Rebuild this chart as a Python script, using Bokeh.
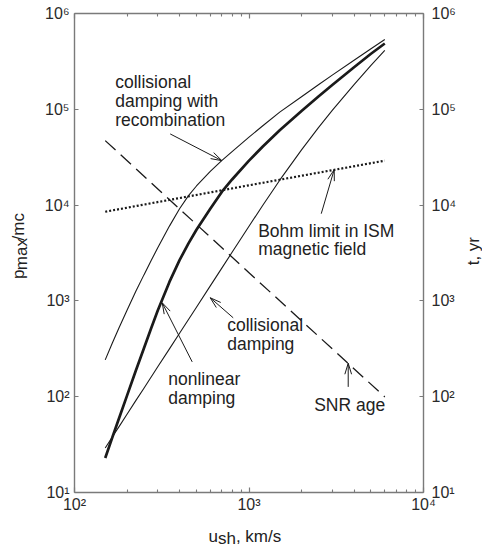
import math
from bokeh.plotting import figure
from bokeh.layouts import row, column
from bokeh.models import (LogAxis, FixedTicker, CustomJSTickFormatter, Label, Range1d)
from bokeh.core.properties import value
from bokeh.embed import file_html
from bokeh.resources import INLINE

# ---------------- data ----------------
u_sh = [150, 165, 180, 200, 225, 250, 275, 300, 350, 400, 450, 500, 600, 700, 800,
        1000, 1200, 1500, 2000, 2500, 3000, 4000, 5000, 6000]
p_recombination = [242.3, 365.8, 523.4, 799.3, 1266, 1869, 2637, 3588, 6035, 9171,
                   12540, 15830, 22450, 29240, 36220, 51220, 67400, 93480, 135400,
                   180300, 227200, 325100, 428700, 534900]
p_nonlinear = [22.9, 37.9, 59.5, 102.7, 188.7, 320.4, 517.2, 793.6, 1579, 2663,
               3990, 5533, 9147, 13800, 18510, 29100, 40870, 60470, 95770, 136100,
               179500, 274800, 380200, 485900]
p_collisional = [29.17, 38.19, 48.71, 65.50, 91.48, 122.7, 160.6, 205.3, 315.9, 459.7,
                 639.1, 859.5, 1435, 2212, 3219, 6020, 9952, 18200, 37740, 64400,
                 97390, 180700, 286900, 411700]
u_bohm = [150, 1000, 6000]
p_bohm = [8530, 16100, 29100]
u_age = [150, 1000, 6000]
t_age = [47100, 1970, 99.5]

x_major_ticks = [100, 1000, 10000]
x_minor_ticks = [200, 300, 400, 500, 600, 700, 800, 900,
                 2000, 3000, 4000, 5000, 6000, 7000, 8000, 9000]
y_major_ticks = [10, 100, 1000, 10000, 100000, 1000000]

# annotation texts: (text, x, y) in data units, left anchored
notes = [
    ("collisional", 171.1, 193500),
    ("damping with", 171.1, 123400),
    ("recombination", 171.1, 78080),
    ("Bohm limit in ISM", 1129, 5404),
    ("magnetic field", 1129, 3462),
    ("collisional", 750.2, 563),
    ("damping", 750.2, 356.4),
    ("nonlinear", 344.4, 151.7),
    ("damping", 344.4, 97.2),
    ("SNR age", 2363, 82.8),
]
# arrows: (x_start, y_start, x_end, y_end) in data units
arrows = [
    (353.5, 55330, 699.3, 29100),
    (2594, 8132, 3078, 23440),
    (812, 666, 599.5, 1078),
    (472.6, 231, 318.2, 955),
    (3703, 126.6, 3703, 223.4),
]

FONT = "Liberation Sans"
INK = "#1a1a1a"
TXT = "#222222"
FRAME = "#7a7a7a"

W, H = 424, 518
BL, BR, BT, BB = 36, 39, 13, 26
X_RANGE = (100, 10000)
Y_RANGE = (10, 1e6)

# ---------------- main chart ----------------
p = figure(width=W, height=H, x_axis_type="log", y_axis_type="log",
           x_range=X_RANGE, y_range=Y_RANGE, title=None,
           output_backend="svg", toolbar_location=None,
           min_border_left=BL, min_border_right=BR,
           min_border_top=BT, min_border_bottom=BB)
p.xgrid.grid_line_color = None
p.ygrid.grid_line_color = None
p.outline_line_color = None
p.background_fill_color = "white"
p.border_fill_color = "white"

bottom = p.below[0]
left = p.left[0]
top = LogAxis()
right = LogAxis()
p.add_layout(top, "above")
p.add_layout(right, "right")

sup_code = """
const s = {"0":"\u2070","1":"\u00b9","2":"\u00b2","3":"\u00b3","4":"\u2074",
           "5":"\u2075","6":"\u2076","7":"\u2077","8":"\u2078","9":"\u2079","-":"\u207b"};
const e = Math.round(Math.log10(tick));
return "10" + String(e).split("").map(c => s[c]).join("");
"""

for ax in [bottom, top]:
    ax.ticker = FixedTicker(ticks=x_major_ticks, minor_ticks=x_minor_ticks)
    ax.major_tick_in = 5
    ax.major_tick_out = 0
    ax.minor_tick_in = 3
    ax.minor_tick_out = 0
    ax.minor_tick_line_color = FRAME
    ax.minor_tick_line_width = 1.1
for ax in [left, right]:
    ax.ticker = FixedTicker(ticks=y_major_ticks, minor_ticks=[])
    ax.major_tick_in = 4
    ax.major_tick_out = 0
    ax.minor_tick_line_color = None

for ax in [bottom, top, left, right]:
    ax.axis_line_color = FRAME
    ax.axis_line_width = 1.4
    ax.major_tick_line_color = FRAME
    ax.major_tick_line_width = 1.2
    ax.major_label_text_font = FONT
    ax.major_label_text_font_size = "16px"
    ax.major_label_text_color = "#2a2a2a"
    ax.axis_label = None

for ax in [bottom, left, right]:
    ax.formatter = CustomJSTickFormatter(code=sup_code)
bottom.major_label_standoff = 3
left.major_label_standoff = 5
right.major_label_standoff = 8

top.formatter = CustomJSTickFormatter(code="return '';")
top.major_label_text_font_size = "0px"
top.major_label_standoff = 0

# curves
p.line(u_sh, p_recombination, line_color=INK, line_width=1.1)
p.line(u_sh, p_collisional, line_color=INK, line_width=1.1)
p.line(u_sh, p_nonlinear, line_color=INK, line_width=2.7)
p.line(u_bohm, p_bohm, line_color=INK, line_width=2.2, line_dash="2 2")
p.line(u_age, t_age, line_color=INK, line_width=1.3, line_dash="14 7")

# annotation texts
for txt, x, y in notes:
    p.add_layout(Label(x=x, y=y, text=txt, text_font=FONT, text_font_size="17.5px",
                       text_color=TXT, text_align="left", text_baseline="alphabetic"))

# arrows with narrow open heads (head geometry worked out in screen pixels)
px_per_dec_x = (W - BL - BR) / (math.log10(X_RANGE[1]) - math.log10(X_RANGE[0]))
px_per_dec_y = (H - BT - BB) / (math.log10(Y_RANGE[1]) - math.log10(Y_RANGE[0]))
HEAD_LEN, HEAD_HALF = 11.5, math.radians(17)
x0s, y0s, x1s, y1s = [], [], [], []
for xs, ys, xe, ye in arrows:
    x0s.append(xs); y0s.append(ys); x1s.append(xe); y1s.append(ye)
    ax0, ay0 = math.log10(xs) * px_per_dec_x, math.log10(ys) * px_per_dec_y
    ax1, ay1 = math.log10(xe) * px_per_dec_x, math.log10(ye) * px_per_dec_y
    ang = math.atan2(ay1 - ay0, ax1 - ax0)
    for s in (1, -1):
        a = ang + math.pi + s * HEAD_HALF
        wx = ax1 + HEAD_LEN * math.cos(a)
        wy = ay1 + HEAD_LEN * math.sin(a)
        x0s.append(xe); y0s.append(ye)
        x1s.append(10 ** (wx / px_per_dec_x)); y1s.append(10 ** (wy / px_per_dec_y))
p.segment(x0=x0s, y0=y0s, x1=x1s, y1=y1s, line_color=INK, line_width=1)


# ---------------- axis titles in small side panels ----------------
def panel(w, h):
    f = figure(width=w, height=h, x_range=Range1d(0, w), y_range=Range1d(0, h),
               title=None, output_backend="svg", toolbar_location=None,
               x_axis_location=None, y_axis_location=None,
               min_border=0, min_border_left=0, min_border_right=0,
               min_border_top=0, min_border_bottom=0)
    f.xgrid.grid_line_color = None
    f.ygrid.grid_line_color = None
    f.outline_line_color = None
    f.background_fill_color = "white"
    f.border_fill_color = "white"
    return f


def title_text(f, xs, ys, texts, angle=0.0, align="left"):
    f.text(x=xs, y=ys, text=texts, angle=angle, text_font=value(FONT),
           text_font_size=value("17px"), text_color=TXT,
           text_align=align, text_baseline="alphabetic")


left_panel = panel(38, H)
title_text(left_panel, [18, 20.5, 18], [231, 240.45, 272.6], ["p", "max", "/mc"],
           angle=math.pi / 2)

right_panel = panel(20, H)
title_text(right_panel, [11], [261], ["t, yr"], angle=math.pi / 2, align="center")

bottom_panel = panel(482, 30)
title_text(bottom_panel, [208, 217.5, 235.4], [12.3, 9.8, 12.3], ["u", "sh", ", km/s"])

layout = column(row(left_panel, p, right_panel), bottom_panel)

open("out.html", "w").write(file_html(layout, INLINE))
